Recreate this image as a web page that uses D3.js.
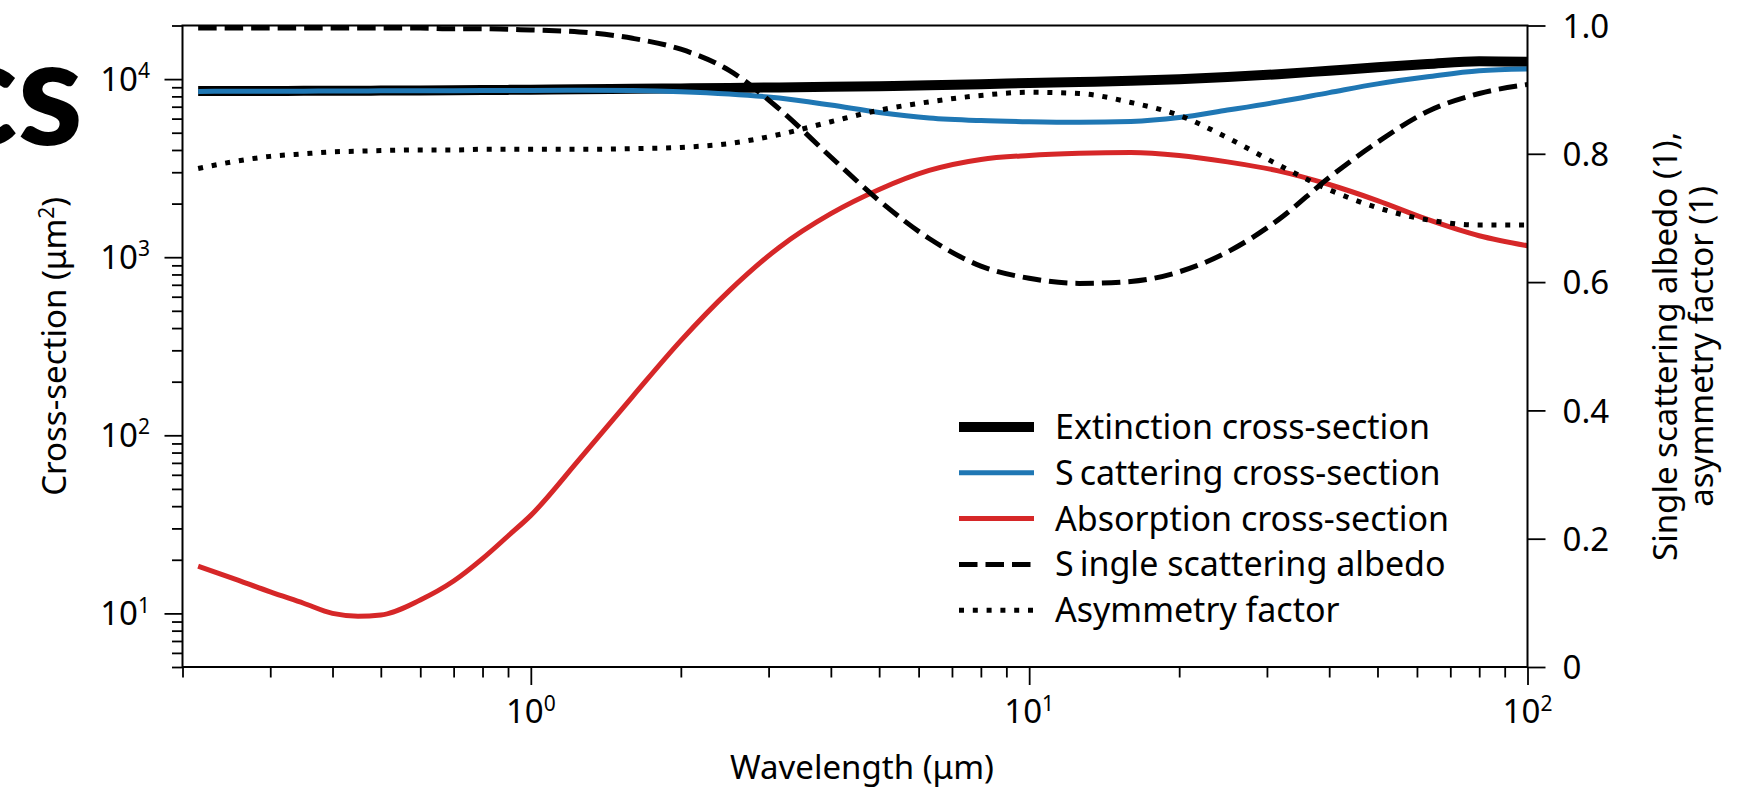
<!DOCTYPE html>
<html>
<head>
<meta charset="utf-8">
<script src="https://cdnjs.cloudflare.com/ajax/libs/d3/7.8.5/d3.min.js"></script>
<style>
  body { margin: 0; background: #fff; }
  svg text { font-family: "Noto Sans", "Open Sans", sans-serif; fill: #000; }
  .axis path { display: none; }
  .axis line { stroke: #000; stroke-width: 1.8px; }
</style>
</head>
<body>
<svg id="chart" width="1745" height="796"></svg>
<script>
// wavelength grid (um) and the five curves
var wavelength = [0.215, 0.25, 0.3, 0.35, 0.4, 0.45, 0.5, 0.6, 0.7, 0.8, 0.9, 1.0, 1.25, 1.6, 2.0, 2.5, 3.15, 4.0, 5.0, 6.3, 8.0, 10, 12.6, 16, 20, 25, 31.6, 40, 50, 63, 80, 100];
var extinction = [8570, 8575, 8580, 8590, 8600, 8610, 8620, 8640, 8660, 8680, 8700, 8720, 8760, 8820, 8870, 8920, 8980, 9050, 9130, 9230, 9370, 9500, 9640, 9780, 9980, 10270, 10650, 11150, 11650, 12150, 12600, 12500];
var scattering = [8530, 8540, 8550, 8560, 8570, 8580, 8590, 8600, 8610, 8620, 8630, 8640, 8650, 8620, 8500, 8250, 7830, 7150, 6500, 6050, 5850, 5760, 5720, 5780, 6080, 6700, 7450, 8400, 9400, 10300, 11150, 11400];
var absorption = [18.4, 15.9, 13.2, 11.4, 10.0, 9.65, 9.8, 11.9, 15.2, 20.3, 27.2, 35.5, 73, 165, 340, 647, 1135, 1756, 2400, 3070, 3540, 3730, 3835, 3875, 3730, 3430, 3055, 2560, 2080, 1630, 1320, 1160];
var albedo = [0.996, 0.996, 0.996, 0.996, 0.996, 0.996, 0.996, 0.996, 0.995, 0.995, 0.994, 0.993, 0.990, 0.980, 0.963, 0.930, 0.870, 0.795, 0.727, 0.668, 0.625, 0.606, 0.598, 0.601, 0.616, 0.647, 0.697, 0.763, 0.818, 0.866, 0.894, 0.908];
var asymmetry = [0.777, 0.787, 0.796, 0.800, 0.803, 0.804, 0.805, 0.806, 0.806, 0.807, 0.807, 0.807, 0.807, 0.808, 0.810, 0.816, 0.830, 0.850, 0.868, 0.881, 0.891, 0.896, 0.894, 0.880, 0.860, 0.825, 0.783, 0.744, 0.716, 0.697, 0.689, 0.689];

var xMajorTicks = [1, 10, 100];
var xTickExp = ["0", "1", "2"];
var yMajorTicks = [10, 100, 1000, 10000];
var yTickExp = ["1", "2", "3", "4"];
var rightTicks = [0, 0.2, 0.4, 0.6, 0.8, 1.0];
var rightTickLabels = ["0", "0.2", "0.4", "0.6", "0.8", "1.0"];

var FS = 33;
var plotL = 182.5, plotR = 1527.5, plotT = 25.5, plotB = 667;

var svg = d3.select("#chart");

var x = d3.scaleLog().domain([0.2, 100]).range([plotL, plotR]);
var yL = d3.scaleLog().domain([5, 2e4]).range([plotB, plotT]);
var yR = d3.scaleLinear().domain([0, 1]).range([plotB, plotT]);

// big title fragment at top left, cut by the page edge as in the original
svg.append("text")
    .attr("x", 83).attr("y", 145)
    .attr("text-anchor", "end")
    .style("font-family", "Lato, 'Open Sans', sans-serif")
    .style("font-weight", 900)
    .style("font-size", "148px")
    .text("cs");

// ---- axes ticks
var xMinor = x.ticks().filter(function(d){ return xMajorTicks.indexOf(d) < 0; });
var yMinor = yL.ticks().filter(function(d){ return yMajorTicks.indexOf(d) < 0; });

svg.append("g").attr("class", "axis")
    .attr("transform", "translate(0," + plotB + ")")
    .call(d3.axisBottom(x).tickValues(xMinor).tickSize(10.5).tickFormat(""));
svg.append("g").attr("class", "axis")
    .attr("transform", "translate(0," + plotB + ")")
    .call(d3.axisBottom(x).tickValues(xMajorTicks).tickSize(18).tickFormat(""));
svg.append("g").attr("class", "axis")
    .attr("transform", "translate(" + plotL + ",0)")
    .call(d3.axisLeft(yL).tickValues(yMinor).tickSize(10.5).tickFormat(""));
svg.append("g").attr("class", "axis")
    .attr("transform", "translate(" + plotL + ",0)")
    .call(d3.axisLeft(yL).tickValues(yMajorTicks).tickSize(18).tickFormat(""));
var rAxis = svg.append("g").attr("class", "axis")
    .attr("transform", "translate(" + plotR + ",0)")
    .call(d3.axisRight(yR).tickValues(rightTicks).tickSize(18).tickPadding(17)
        .tickFormat(function(d, i){ return rightTickLabels[i]; }));
rAxis.selectAll("text")
    .attr("dy", "0.355em")
    .style("font-size", FS + "px")
    .style("font-family", "'Noto Sans', sans-serif");

// power-of-ten labels
function powLabel(sel, exp) {
  sel.append("tspan").text("10");
  sel.append("tspan").attr("dy", -12.5).style("font-size", "21px").text(exp);
}
xMajorTicks.forEach(function(v, i){
  var t = svg.append("text")
      .attr("x", x(v)).attr("y", 723)
      .attr("text-anchor", "middle")
      .style("font-size", FS + "px");
  powLabel(t, xTickExp[i]);
});
yMajorTicks.forEach(function(v, i){
  var t = svg.append("text")
      .attr("x", 150).attr("y", yL(v) + 11.7)
      .attr("text-anchor", "end")
      .style("font-size", FS + "px");
  powLabel(t, yTickExp[i]);
});

// ---- curves
var rows = wavelength.map(function(w, i){
  return {w: w, ext: extinction[i], sca: scattering[i], abs: absorption[i], alb: albedo[i], asy: asymmetry[i]};
});

var series = [
  {key: "ext", axis: yL, color: "#000000", width: 10, dash: null, label: ["", "Extinction cross-section"]},
  {key: "sca", axis: yL, color: "#1f77b4", width: 5, dash: null, label: ["S", "cattering cross-section"]},
  {key: "abs", axis: yL, color: "#d62728", width: 5, dash: null, label: ["", "Absorption cross-section"]},
  {key: "alb", axis: yR, color: "#000000", width: 5, dash: "18.5,8", label: ["S", "ingle scattering albedo"]},
  {key: "asy", axis: yR, color: "#000000", width: 5, dash: "5,8.8", label: ["", "Asymmetry factor"]}
];

svg.append("clipPath").attr("id", "plotclip")
  .append("rect")
    .attr("x", plotL).attr("y", plotT)
    .attr("width", plotR - plotL).attr("height", plotB - plotT);

var plot = svg.append("g").attr("clip-path", "url(#plotclip)");

series.forEach(function(s){
  var line = d3.line()
      .x(function(d){ return x(d.w); })
      .y(function(d){ return s.axis(d[s.key]); })
      .curve(d3.curveMonotoneX);
  plot.append("path")
      .datum(rows)
      .attr("d", line)
      .attr("fill", "none")
      .attr("stroke", s.color)
      .attr("stroke-width", s.width)
      .attr("stroke-dasharray", s.dash)
      .attr("stroke-linejoin", "round");
});

// ---- frame
svg.append("rect")
    .attr("x", plotL).attr("y", plotT)
    .attr("width", plotR - plotL).attr("height", plotB - plotT)
    .attr("fill", "none").attr("stroke", "#000").attr("stroke-width", 2);

// ---- legend
var leg = svg.append("g");
series.forEach(function(s, i){
  var cy = 427 + i * 45.8;
  leg.append("line")
      .attr("x1", 959).attr("x2", 1034)
      .attr("y1", cy).attr("y2", cy)
      .attr("stroke", s.color)
      .attr("stroke-width", s.width)
      .attr("stroke-dasharray", s.dash);
  var t = leg.append("text")
      .attr("x", 1055).attr("y", cy + 12)
      .style("font-size", "34px");
  if (s.label[0]) t.append("tspan").text(s.label[0]);
  t.append("tspan").attr("dx", s.label[0] ? 6 : 0).text(s.label[1]);
});

// ---- axis titles
svg.append("text")
    .attr("x", (plotL + plotR) / 2 + 7).attr("y", 779)
    .attr("text-anchor", "middle")
    .style("font-size", FS + "px")
    .text("Wavelength (\u03bcm)");

var yt = svg.append("text")
    .attr("transform", "translate(66," + ((plotT + plotB) / 2) + ") rotate(-90)")
    .attr("text-anchor", "middle")
    .style("font-size", FS + "px");
yt.append("tspan").text("Cross-section (\u03bcm");
yt.append("tspan").attr("dy", -12.5).style("font-size", "21px").text("2");
yt.append("tspan").attr("dy", 12.5).text(")");

svg.append("text")
    .attr("transform", "translate(1677," + ((plotT + plotB) / 2) + ") rotate(-90)")
    .attr("text-anchor", "middle")
    .style("font-size", FS + "px")
    .text("Single scattering albedo (1),");
svg.append("text")
    .attr("transform", "translate(1713," + ((plotT + plotB) / 2) + ") rotate(-90)")
    .attr("text-anchor", "middle")
    .style("font-size", FS + "px")
    .text("asymmetry factor (1)");
</script>
</body>
</html>
